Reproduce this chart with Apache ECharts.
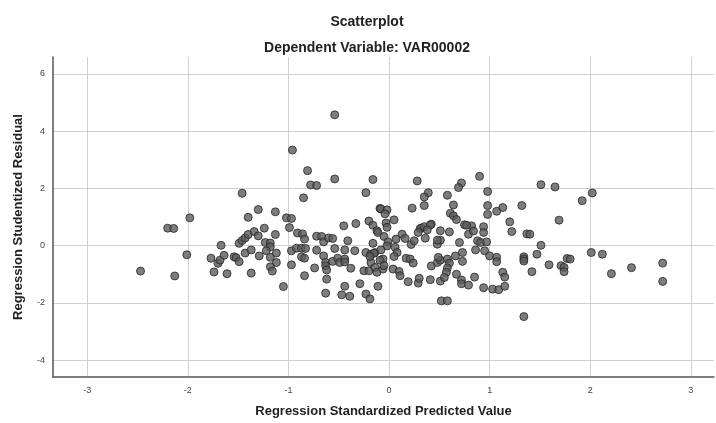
<!DOCTYPE html>
<html>
<head>
<meta charset="utf-8">
<script src="https://cdn.jsdelivr.net/npm/echarts@6/dist/echarts.min.js"></script>
<style>
  html, body { margin: 0; padding: 0; background: #fff; }
  #chart { width: 716px; height: 423px; }
</style>
</head>
<body>
<div id="chart"></div>
<script>
// tick labels
const xTicks = [-3, -2, -1, 0, 1, 2, 3]
const yTicks = [-4, -2, 0, 2, 4, 6]

// predicted value (x) / studentized residual (y)
const upperPoints = [
  [-0.54, 4.57], [-0.96, 3.34], [-0.81, 2.62], [-0.78, 2.12], [-0.72, 2.10], [-0.54, 2.33],
  [-0.16, 2.31], [-0.23, 1.85], [-1.46, 1.83], [-0.85, 1.67], [-0.09, 1.30], [-1.30, 1.26],
  [-1.13, 1.18], [-1.40, 0.99], [-1.98, 0.97], [-1.02, 0.97], [-0.97, 0.95], [-0.45, 0.69],
  [-0.33, 0.77], [-0.20, 0.86], [-0.16, 0.71], [-2.20, 0.61], [-2.14, 0.60], [-0.99, 0.63],
  [-1.24, 0.61], [0.28, 2.26], [0.72, 2.19], [0.69, 2.03], [0.90, 2.42], [0.98, 1.89],
  [0.39, 1.85], [0.35, 1.70], [0.58, 1.76], [1.51, 2.13], [1.65, 2.05], [2.02, 1.84],
  [1.92, 1.57], [0.35, 1.40], [0.23, 1.31], [0.64, 1.42], [0.98, 1.40], [0.98, 1.09],
  [1.13, 1.33], [1.07, 1.20], [1.32, 1.40], [0.61, 1.13], [0.64, 1.04], [0.67, 0.91],
  [-0.08, 1.28], [-0.02, 1.25], [-0.04, 1.11], [0.05, 0.90], [-0.03, 0.79], [1.20, 0.83],
  [1.69, 0.89], [0.42, 0.75], [0.32, 0.61], [0.75, 0.73], [0.82, 0.69], [0.94, 0.66]
]
const leftPoints = [
  [-2.47, -0.89], [-2.13, -1.06], [-2.01, -0.32], [-1.67, 0.01], [-1.77, -0.44], [-1.70, -0.62],
  [-1.68, -0.51], [-1.64, -0.34], [-1.74, -0.92], [-1.61, -0.98], [-1.54, -0.39], [-1.52, -0.42],
  [-1.49, -0.56], [-1.49, 0.08], [-1.46, 0.18], [-1.43, 0.27], [-1.40, 0.39], [-1.43, -0.26],
  [-1.37, -0.15], [-1.37, -0.96], [-1.34, 0.49], [-1.30, 0.34], [-1.29, -0.36], [-1.23, 0.11],
  [-1.18, 0.09], [-1.18, -0.04], [-1.22, -0.18], [-1.13, 0.39], [-1.12, -0.26], [-1.18, -0.41],
  [-1.12, -0.59], [-1.18, -0.74], [-1.16, -0.89], [-1.05, -1.43], [-0.97, -0.18], [-0.92, -0.09],
  [-0.91, 0.44], [-0.86, 0.41], [-0.84, 0.23], [-0.87, -0.09], [-0.83, -0.10], [-0.87, -0.39],
  [-0.84, -0.44], [-0.97, -0.67], [-0.84, -1.05], [-0.74, -0.78], [-0.72, -0.16], [-0.72, 0.33],
  [-0.67, 0.32], [-0.65, 0.13], [-0.60, 0.27], [-0.56, 0.25], [-0.65, -0.36], [-0.63, -0.59],
  [-0.63, -0.70], [-0.62, -0.85], [-0.62, -1.17], [-0.63, -1.66], [-0.56, -0.55], [-0.54, -0.10],
  [-0.51, -0.44], [-0.49, -0.59], [-0.44, -0.15], [-0.44, -0.47], [-0.44, -0.57], [-0.41, 0.17],
  [-0.34, -0.18], [-0.38, -0.79], [-0.44, -1.42], [-0.47, -1.72], [-0.39, -1.77], [-0.29, -1.33],
  [-0.23, -1.69], [-0.19, -1.86], [-0.23, -0.24], [-0.18, -0.30], [-0.14, -0.24], [-0.25, -0.88],
  [-0.20, -0.88], [-0.16, 0.08], [-0.12, 0.52], [-0.18, -0.59], [-0.14, -0.76], [-0.12, -0.93],
  [-0.11, -1.42]
]
const rightPoints = [
  [-0.02, 0.64], [-0.11, 0.46], [-0.05, 0.32], [-0.01, 0.13], [-0.02, -0.01], [-0.08, -0.15],
  [0.07, 0.23], [0.06, -0.06], [0.08, -0.24], [0.05, -0.38], [0.13, 0.40], [0.16, 0.25],
  [0.22, 0.04], [0.25, 0.17], [0.31, 0.60], [0.35, 0.66], [0.29, 0.46], [0.41, 0.72],
  [0.38, 0.55], [0.36, 0.26], [-0.15, -0.27], [-0.19, -0.38], [-0.06, -0.47], [-0.09, -0.51],
  [-0.06, -0.82], [-0.05, -0.70], [0.04, -0.82], [0.10, -0.90], [0.11, -1.05], [0.17, -0.44],
  [0.21, -0.47], [0.24, -0.61], [0.19, -1.26], [0.29, -1.31], [0.30, -1.14], [0.41, -1.19],
  [0.42, -0.71], [0.48, -0.59], [0.51, -0.51], [0.49, -0.41], [0.58, -0.47], [0.60, -0.61],
  [0.58, -0.78], [0.57, -0.93], [0.51, -1.24], [0.55, -1.11], [0.52, -1.93], [0.58, -1.93],
  [0.48, 0.05], [0.51, 0.19], [0.48, 0.19], [0.51, 0.52], [0.60, 0.48], [0.70, 0.11],
  [0.66, -0.36], [0.73, -0.24], [0.73, -0.55], [0.67, -1.00], [0.72, -1.20], [0.72, -1.33],
  [0.79, -1.38], [0.85, -1.10], [0.77, 0.71], [0.79, 0.40], [0.84, 0.51], [0.88, 0.17],
  [0.91, 0.11], [0.86, -0.15], [0.94, 0.46], [0.97, 0.13], [0.95, -0.18], [1.00, -0.36],
  [0.94, -1.47], [1.03, -1.52], [1.09, -1.54], [1.15, -1.42], [1.07, -0.41], [1.07, -0.56],
  [1.13, -0.93], [1.15, -1.10], [1.22, 0.49], [1.37, 0.41], [1.40, 0.40], [1.34, -0.39],
  [1.34, -0.47], [1.34, -0.54], [1.47, -0.30], [1.51, 0.01], [1.42, -0.91], [1.34, -2.48],
  [1.59, -0.67], [1.71, -0.70], [1.74, -0.76], [1.74, -0.91], [1.77, -0.45], [1.80, -0.47],
  [2.01, -0.24], [2.12, -0.30], [2.21, -0.98], [2.41, -0.77], [2.72, -0.61], [2.72, -1.25]
]

const points = upperPoints.concat(leftPoints, rightPoints)

const chart = echarts.init(document.getElementById('chart'))

const tickLabel = { color: '#444', fontSize: 9, fontFamily: 'Liberation Sans' }
const titleFont = { fontSize: 14, fontWeight: 'bold', color: '#222', fontFamily: 'Liberation Sans' }

chart.setOption({
  animation: false,
  title: [{
    text: 'Scatterplot',
    left: 362, top: 10, textAlign: 'center',
    textStyle: titleFont
  }, {
    text: 'Dependent Variable: VAR00002',
    left: 362, top: 36, textAlign: 'center',
    textStyle: titleFont
  }],
  grid: { left: 53, right: 2, top: 57, bottom: 45 },
  xAxis: {
    type: 'value',
    min: -3.34, max: 3.23,
    name: 'Regression Standardized Predicted Value',
    nameLocation: 'middle', nameGap: 28,
    nameTextStyle: { fontSize: 13, fontWeight: 'bold', color: '#222', fontFamily: 'Liberation Sans' },
    axisLine: { show: true, onZero: false, lineStyle: { color: '#555', width: 1.5 } },
    axisTick: { show: false, customValues: xTicks },
    axisLabel: Object.assign({ customValues: xTicks, margin: 9 }, tickLabel),
    splitLine: { show: true, lineStyle: { color: '#cfcfcf', width: 1 } }
  },
  yAxis: {
    type: 'value',
    min: -4.59, max: 6.59,
    name: 'Regression Studentized Residual',
    nameLocation: 'middle', nameGap: 28,
    nameTextStyle: { fontSize: 13, fontWeight: 'bold', color: '#222', fontFamily: 'Liberation Sans' },
    axisLine: { show: true, onZero: false, lineStyle: { color: '#555', width: 1.5 } },
    axisTick: { show: false, customValues: yTicks },
    axisLabel: Object.assign({ customValues: yTicks, margin: 8 }, tickLabel),
    splitLine: { show: true, lineStyle: { color: '#cfcfcf', width: 1 } }
  },
  series: [{
    type: 'scatter',
    data: points,
    symbolSize: 8,
    itemStyle: { color: '#5c5c5c', borderColor: '#262626', borderWidth: 1 }
  }]
})
</script>
</body>
</html>
